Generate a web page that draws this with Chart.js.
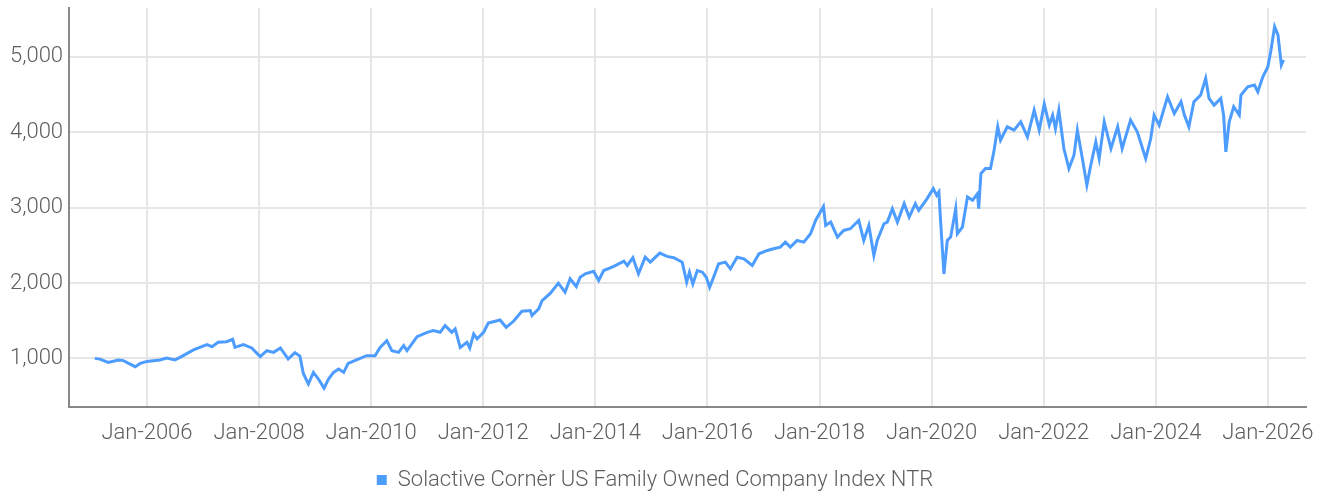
<!DOCTYPE html>
<html lang="en">
<head>
  <meta charset="UTF-8">
  <title>Solactive Cornèr US Family Owned Company Index NTR</title>
  <script src="https://cdn.jsdelivr.net/npm/chart.js"></script>
  <style>
    body {
      margin: 0;
      padding: 0;
      background: #fff;
    }
    .chart-box {
      width: 1323px;
      height: 493px;
      position: relative;
    }
  </style>
</head>
<body>
  <div class="chart-box">
    <canvas id="index-chart"></canvas>
  </div>
  <script>
    // time in decimal years
    const timeYears = [
      2005.07, 2005.16, 2005.31, 2005.49, 2005.58, 2005.79, 2005.88, 2006.00, 2006.23, 2006.35,
      2006.50, 2006.59, 2006.83, 2007.07, 2007.16, 2007.27, 2007.42, 2007.53, 2007.57, 2007.72,
      2007.87, 2008.02, 2008.14, 2008.26, 2008.38, 2008.52, 2008.64, 2008.73, 2008.79, 2008.88,
      2008.97, 2009.06, 2009.16, 2009.24, 2009.33, 2009.42, 2009.51, 2009.59, 2009.74, 2009.92,
      2010.07, 2010.16, 2010.28, 2010.37, 2010.49, 2010.58, 2010.64, 2010.82, 2011.00, 2011.11,
      2011.23, 2011.32, 2011.44, 2011.50, 2011.59, 2011.71, 2011.76, 2011.83, 2011.89, 2012.01,
      2012.09, 2012.30, 2012.41, 2012.54, 2012.69, 2012.84, 2012.87, 2012.99, 2013.05, 2013.20,
      2013.34, 2013.46, 2013.55, 2013.66, 2013.73, 2013.82, 2013.97, 2014.06, 2014.15, 2014.33,
      2014.51, 2014.57, 2014.67, 2014.77, 2014.89, 2014.98, 2015.15, 2015.28, 2015.40, 2015.55,
      2015.63, 2015.68, 2015.74, 2015.82, 2015.91, 2015.98, 2016.04, 2016.11, 2016.20, 2016.32,
      2016.41, 2016.53, 2016.65, 2016.80, 2016.92, 2017.07, 2017.18, 2017.30, 2017.39, 2017.48,
      2017.60, 2017.72, 2017.84, 2017.93, 2018.07, 2018.11, 2018.20, 2018.32, 2018.43, 2018.55,
      2018.70, 2018.79, 2018.88, 2018.97, 2019.03, 2019.15, 2019.21, 2019.30, 2019.39, 2019.51,
      2019.60, 2019.71, 2019.77, 2019.92, 2020.03, 2020.09, 2020.13, 2020.16, 2020.19, 2020.22,
      2020.28, 2020.34, 2020.43, 2020.46, 2020.55, 2020.64, 2020.73, 2020.82, 2020.84, 2020.88,
      2020.96, 2021.05, 2021.11, 2021.18, 2021.23, 2021.35, 2021.47, 2021.59, 2021.71, 2021.83,
      2021.92, 2022.01, 2022.10, 2022.16, 2022.21, 2022.27, 2022.36, 2022.45, 2022.54, 2022.60,
      2022.69, 2022.77, 2022.84, 2022.93, 2022.99, 2023.08, 2023.20, 2023.32, 2023.40, 2023.55,
      2023.67, 2023.82, 2023.91, 2023.97, 2024.06, 2024.21, 2024.33, 2024.45, 2024.51, 2024.59,
      2024.68, 2024.80, 2024.89, 2024.95, 2025.04, 2025.16, 2025.21, 2025.25, 2025.31, 2025.39,
      2025.49, 2025.52, 2025.64, 2025.76, 2025.82, 2025.91, 2026.00, 2026.05, 2026.12, 2026.18,
      2026.24, 2026.28
    ];

    const indexValues = [
      1000, 990, 947, 979, 970, 890, 933, 960, 979, 1005,
      979, 1013, 1112, 1182, 1155, 1213, 1222, 1253, 1146, 1182,
      1138, 1023, 1102, 1080, 1138, 992, 1075, 1030, 800, 660,
      814, 726, 606, 726, 814, 859, 814, 934, 979, 1036,
      1036, 1146, 1235, 1102, 1080, 1169, 1102, 1289, 1346, 1368,
      1346, 1435, 1346, 1391, 1146, 1213, 1138, 1324, 1258, 1350,
      1470, 1510, 1412, 1492, 1625, 1634, 1568, 1657, 1767, 1865,
      1998, 1878, 2056, 1954, 2077, 2122, 2157, 2034, 2166, 2220,
      2290, 2233, 2335, 2122, 2343, 2277, 2397, 2353, 2335, 2277,
      2011, 2144, 1989, 2166, 2144, 2077, 1944, 2077, 2255, 2277,
      2189, 2343, 2321, 2233, 2388, 2432, 2455, 2476, 2543, 2476,
      2565, 2543, 2654, 2831, 3017, 2765, 2809, 2609, 2698, 2721,
      2831, 2565, 2765, 2366, 2565, 2787, 2809, 2987, 2809, 3053,
      2875, 3053, 2964, 3120, 3253, 3164, 3208, 2831, 2476, 2122,
      2565, 2609, 2987, 2654, 2742, 3142, 3098, 3186, 2987, 3452,
      3519, 3519, 3740, 4073, 3896, 4073, 4029, 4140, 3940, 4295,
      4029, 4374, 4095, 4228, 4051, 4295, 3785, 3519, 3696, 4029,
      3652, 3300, 3563, 3873, 3652, 4140, 3785, 4073, 3785, 4162,
      4006, 3652, 3918, 4228, 4095, 4472, 4250, 4405, 4228, 4073,
      4405, 4494, 4716, 4450, 4361, 4450, 4228, 3740, 4140, 4339,
      4228, 4494, 4605, 4627, 4538, 4738, 4871, 5070, 5402, 5292,
      4893, 4960
    ];

    const yTickValues = [1000, 2000, 3000, 4000, 5000];
    const xTickYears = [2006, 2008, 2010, 2012, 2014, 2016, 2018, 2020, 2022, 2024, 2026];
    const seriesLabel = 'Solactive Cornèr US Family Owned Company Index NTR';

    const lineColor = '#4d9cff';
    const gridColor = '#e6e6e6';
    const axisColor = '#888888';
    const textColor = '#5e5e5e';
    const fontFamily = "Roboto, 'DejaVu Sans', sans-serif";
    const tickFont = { family: fontFamily, size: 22, weight: '300' };

    const points = timeYears.map((t, i) => ({ x: t, y: indexValues[i] }));

    new Chart(document.getElementById('index-chart'), {
      type: 'line',
      data: {
        datasets: [{
          label: seriesLabel,
          data: points,
          borderColor: lineColor,
          backgroundColor: lineColor,
          borderWidth: 3,
          pointRadius: 0,
          tension: 0,
          fill: false
        }]
      },
      options: {
        responsive: true,
        maintainAspectRatio: false,
        animation: false,
        layout: { padding: { left: 4, right: 17, top: 8, bottom: -8 } },
        scales: {
          x: {
            type: 'linear',
            min: 2004.61,
            max: 2026.68,
            afterBuildTicks: (scale) => {
              scale.ticks = xTickYears.map(v => ({ value: v }));
            },
            afterFit: (scale) => {
              scale.paddingLeft = 0;
              scale.paddingRight = 0;
              scale.height += 6;
            },
            grid: { color: gridColor, lineWidth: 2, drawTicks: false },
            border: { color: axisColor, width: 2 },
            ticks: {
              padding: 14,
              color: textColor,
              font: tickFont,
              maxRotation: 0,
              autoSkip: false,
              callback: (v) => 'Jan-' + v
            }
          },
          y: {
            min: 360,
            max: 5650,
            afterBuildTicks: (scale) => {
              scale.ticks = yTickValues.map(v => ({ value: v }));
            },
            afterFit: (scale) => {
              scale.paddingTop = 0;
              scale.paddingBottom = 0;
            },
            grid: { color: gridColor, lineWidth: 2, drawTicks: false },
            border: { color: axisColor, width: 2 },
            ticks: {
              padding: 6,
              color: textColor,
              font: tickFont,
              callback: (v) => v.toLocaleString('en-US')
            }
          }
        },
        plugins: {
          tooltip: { enabled: false },
          legend: {
            position: 'bottom',
            labels: {
              color: textColor,
              font: tickFont,
              boxWidth: 10,
              boxHeight: 10,
              padding: 2,
              generateLabels: (chart) =>
                Chart.defaults.plugins.legend.labels.generateLabels(chart).map(l => ({ ...l, lineWidth: 0 }))
            }
          }
        }
      }
    });
  </script>
</body>
</html>
